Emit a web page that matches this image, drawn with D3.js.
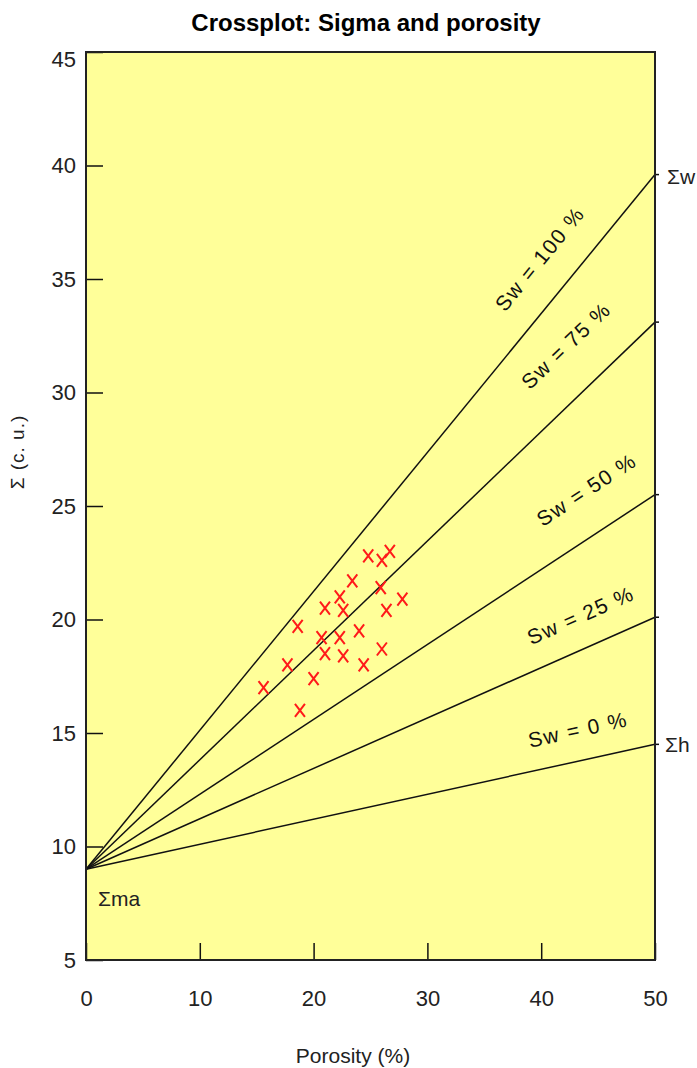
<!DOCTYPE html>
<html>
<head>
<meta charset="utf-8">
<script src="https://cdn.jsdelivr.net/npm/d3@7"></script>
<style>
    body { margin: 0; background: #fff; }
    text { font-family: "Liberation Sans", Arial, sans-serif; fill: #222; }
    .title { font-weight: bold; font-size: 24px; fill: #000; }
    .sw-label { font-size: 21px; letter-spacing: 1.5px; fill: #111; }
    .end-label { font-size: 21px; }
</style>
</head>
<body>
<div id="chart"></div>
<script>
// ticks
let xTicks = [0, 10, 20, 30, 40, 50];
let yTicks = [5, 10, 15, 20, 25, 30, 35, 40, 45];

// fan of saturation lines: all start at sigma matrix, value read at porosity 50
let sigmaMa = 9.0;
let swNames = ['Sw = 100 %', 'Sw = 75 %', 'Sw = 50 %', 'Sw = 25 %', 'Sw = 0 %'];
let swSigmaAt50 = [39.6, 33.1, 25.5, 20.1, 14.5];

// measured points
let porosity = [24.8, 26.7, 26.0, 23.4, 25.9, 27.8, 22.3, 21.0, 22.6, 26.4, 18.6,
    24.0, 20.7, 22.3, 21.0, 22.6, 26.0, 24.4, 17.7, 20.0, 15.6, 18.8];
let sigma = [22.8, 23.0, 22.6, 21.7, 21.4, 20.9, 21.0, 20.5, 20.4, 20.4, 19.7,
    19.5, 19.2, 19.2, 18.5, 18.4, 18.7, 18.0, 18.0, 17.4, 17.0, 16.0];

// where the rotated line labels sit (porosity along line, px above line)
let labelAt = [42.3, 44.9, 46.0, 44.6, 43.8];
let labelGap = [36, 45, 42, 32, 31];

let width = 697, height = 1068;
let plot = {left: 86, right: 655, top: 52, bottom: 960};

let svg = d3.select('#chart').append('svg')
    .attr('width', width)
    .attr('height', height);

let x = d3.scaleLinear().domain([0, 50]).range([plot.left, plot.right]);
let y = d3.scaleLinear().domain([5, 45]).range([plot.bottom, plot.top]);

svg.append('text')
    .attr('class', 'title')
    .attr('x', 366)
    .attr('y', 31)
    .attr('text-anchor', 'middle')
    .text('Crossplot: Sigma and porosity');

// yellow plot area
svg.append('rect')
    .attr('x', plot.left)
    .attr('y', plot.top)
    .attr('width', plot.right - plot.left)
    .attr('height', plot.bottom - plot.top)
    .attr('fill', '#ffff99');

// saturation lines
let lineGen = d3.line()
    .x(function(d) { return x(d[0]); })
    .y(function(d) { return y(d[1]); });

let g = svg.append('g').attr('id', 'fan');
swSigmaAt50.forEach(function(s, i) {
    g.append('path')
        .attr('d', lineGen([[0, sigmaMa], [50, s]]))
        .attr('fill', 'none')
        .attr('stroke', '#111')
        .attr('stroke-width', 1.5);

    // small tick outside right edge
    g.append('line')
        .attr('x1', x(50)).attr('x2', x(50) + 4)
        .attr('y1', y(s)).attr('y2', y(s))
        .attr('stroke', '#111')
        .attr('stroke-width', 1.5);

    let dx = x(50) - x(0);
    let dy = y(s) - y(sigmaMa);
    let angle = Math.atan2(dy, dx) * 180 / Math.PI;
    let px = x(labelAt[i]);
    let py = y(sigmaMa + (s - sigmaMa) * labelAt[i] / 50);
    g.append('text')
        .attr('class', 'sw-label')
        .attr('transform', 'translate(' + px + ',' + py + ') rotate(' + angle + ')')
        .attr('y', -labelGap[i])
        .attr('text-anchor', 'middle')
        .attr('dominant-baseline', 'central')
        .text(swNames[i]);
});

// end labels
svg.append('text').attr('class', 'end-label')
    .attr('x', x(50) + 12).attr('y', y(swSigmaAt50[0]) + 9)
    .text('\u03A3w');
svg.append('text').attr('class', 'end-label')
    .attr('x', x(50) + 10).attr('y', y(swSigmaAt50[4]) + 8)
    .text('\u03A3h');
svg.append('text').attr('class', 'end-label')
    .attr('x', x(0) + 12).attr('y', y(sigmaMa) + 37)
    .text('\u03A3ma');

// data points drawn as x marks
svg.append('g').selectAll('path')
    .data(porosity)
    .enter().append('path')
    .attr('transform', function(d, i) { return 'translate(' + x(d) + ',' + y(sigma[i]) + ')'; })
    .attr('d', 'M-5,-6.5L5,6.5M5,-6.5L-5,6.5')
    .attr('stroke', '#ff1a1a')
    .attr('stroke-width', 2)
    .attr('fill', 'none');

// axes with ticks pointing inside
let xAxis = svg.append('g')
    .attr('transform', 'translate(0,' + plot.bottom + ')')
    .call(d3.axisBottom(x).tickValues(xTicks).tickSizeInner(-17).tickSizeOuter(0).tickPadding(30));
let yAxis = svg.append('g')
    .attr('transform', 'translate(' + plot.left + ',0)')
    .call(d3.axisLeft(y).tickValues(yTicks).tickSizeInner(-17).tickSizeOuter(0).tickPadding(10));

[xAxis, yAxis].forEach(function(a) {
    a.select('.domain').remove();
    a.selectAll('line').attr('stroke', '#111').attr('stroke-width', 1.5);
    a.selectAll('text')
        .attr('font-family', '"Liberation Sans", Arial, sans-serif')
        .attr('font-size', 22)
        .attr('fill', '#222');
});
// top label sits a little below the border
yAxis.selectAll('.tick').filter(function(d) { return d === 45; })
    .select('text').attr('dy', '0.65em');

// border on top
svg.append('rect')
    .attr('x', plot.left)
    .attr('y', plot.top)
    .attr('width', plot.right - plot.left)
    .attr('height', plot.bottom - plot.top)
    .attr('fill', 'none')
    .attr('stroke', '#222')
    .attr('stroke-width', 2);

// axis titles
svg.append('text')
    .attr('x', 353)
    .attr('y', 1063)
    .attr('text-anchor', 'middle')
    .attr('font-size', 21)
    .text('Porosity (%)');

svg.append('text')
    .attr('transform', 'translate(24,452) rotate(-90)')
    .attr('text-anchor', 'middle')
    .attr('font-size', 19)
    .attr('letter-spacing', 1)
    .text('\u03A3 (c. u.)');
</script>
</body>
</html>
